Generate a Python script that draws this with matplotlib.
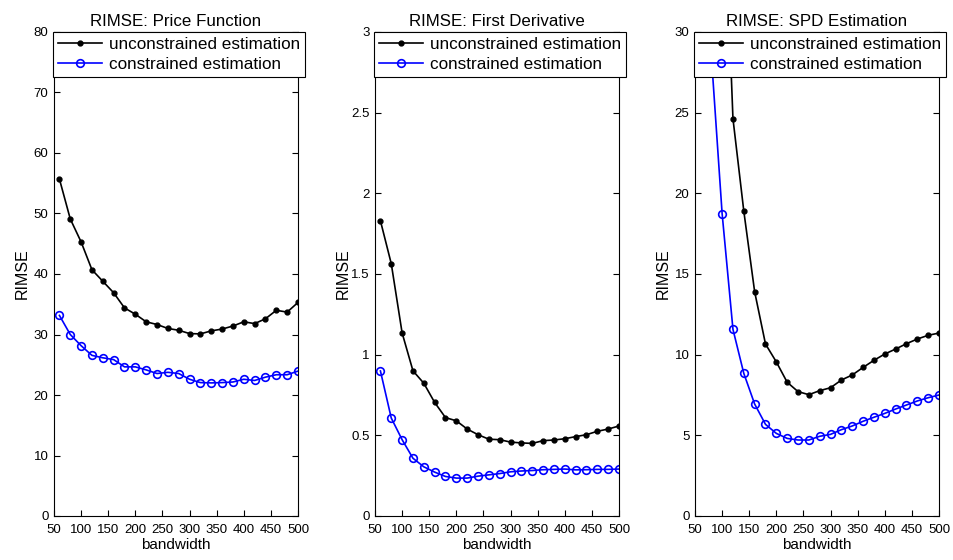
import matplotlib
matplotlib.use("Agg")
import matplotlib.pyplot as plt
import numpy as np

plt.rcParams['font.family'] = ['Liberation Sans', 'DejaVu Sans']

bandwidth = list(range(60, 501, 20))
xticks = list(range(50, 501, 50))

price_unc = [55.7, 49.1, 45.3, 40.7, 38.8, 36.9, 34.4, 33.35, 32.1, 31.65, 31.0, 30.7,
             30.15, 30.1, 30.6, 30.9, 31.4, 32.1, 31.8, 32.6, 34.0, 33.7, 35.3]
price_con = [33.15, 30.0, 28.15, 26.55, 26.15, 25.85, 24.65, 24.65, 24.15, 23.55, 23.75, 23.55,
             22.6, 22.05, 22.0, 22.05, 22.15, 22.6, 22.4, 22.95, 23.35, 23.35, 23.95]

deriv_unc = [1.83, 1.564, 1.135, 0.90, 0.823, 0.704, 0.61, 0.59, 0.539, 0.504, 0.476, 0.473,
             0.458, 0.453, 0.450, 0.467, 0.471, 0.479, 0.492, 0.504, 0.525, 0.539, 0.558]
deriv_con = [0.899, 0.607, 0.473, 0.358, 0.305, 0.272, 0.245, 0.235, 0.235, 0.247, 0.255, 0.263,
             0.274, 0.279, 0.282, 0.287, 0.289, 0.291, 0.286, 0.287, 0.289, 0.289, 0.291]

spd_unc = [110, 70, 42, 24.63, 18.9, 13.9, 10.66, 9.55, 8.29, 7.71, 7.52, 7.77,
           7.95, 8.43, 8.74, 9.21, 9.65, 10.04, 10.35, 10.68, 10.97, 11.2, 11.34]
spd_con = [45, 28.6, 18.75, 11.57, 8.84, 6.94, 5.68, 5.12, 4.81, 4.71, 4.71, 4.94,
           5.06, 5.35, 5.58, 5.87, 6.12, 6.36, 6.63, 6.88, 7.13, 7.33, 7.5]

titles = ["RIMSE: Price Function", "RIMSE: First Derivative", "RIMSE: SPD Estimation"]
ylims = [(0, 80), (0, 3), (0, 30)]
yticks = [list(range(0, 81, 10)), [0, 0.5, 1, 1.5, 2, 2.5, 3], list(range(0, 31, 5))]
yticklabels = [[str(v) for v in yticks[0]], ["0", "0.5", "1", "1.5", "2", "2.5", "3"],
               [str(v) for v in yticks[2]]]
series = [(price_unc, price_con), (deriv_unc, deriv_con), (spd_unc, spd_con)]

fig = plt.figure(figsize=(9.54, 5.6), dpi=100)
lefts = [54 / 954, 375 / 954, 695 / 954]
w = 244 / 954
b = 44 / 560
h = 484 / 560

for i in range(3):
    ax = fig.add_axes([lefts[i], b, w, h])
    unc, con = series[i]
    ax.plot(bandwidth, unc, color='black', lw=1.2, marker='o', ms=3.5,
            mfc='black', mec='black', label='unconstrained estimation')
    ax.plot(bandwidth, con, color='blue', lw=1.2, marker='o', ms=5.5,
            mfc='none', mec='blue', mew=1.2, label='constrained estimation')
    ax.set_xlim(50, 500)
    ax.set_ylim(*ylims[i])
    ax.set_xticks(xticks)
    ax.set_xticklabels([str(v) for v in xticks], fontsize=9.5,
                       family=['Liberation Sans Narrow', 'Liberation Sans'])
    ax.set_yticks(yticks[i])
    ax.set_yticklabels(yticklabels[i], fontsize=9.5)
    ax.tick_params(direction='in', top=True, right=True, length=4, width=0.8)
    ax.tick_params(axis='x', pad=6)
    ax.tick_params(axis='y', pad=4)
    for s in ax.spines.values():
        s.set_linewidth(0.8)
    ax.set_title(titles[i], fontsize=12.2, pad=4)
    ax.set_xlabel('bandwidth', fontsize=11, labelpad=1)
    ax.set_ylabel('RIMSE', fontsize=11.5)
    ax.yaxis.set_label_coords(-0.10, 0.5)
    leg = ax.legend(loc='upper right', bbox_to_anchor=(1.03, 1.0), fontsize=12.3,
                    frameon=True, fancybox=False, framealpha=1, edgecolor='black',
                    handlelength=2.6, handletextpad=0.4, borderpad=0.3,
                    labelspacing=0.3, borderaxespad=0.0)
    leg.get_frame().set_linewidth(0.8)
    leg.set_zorder(10)

fig.savefig('out.png', dpi=100)
